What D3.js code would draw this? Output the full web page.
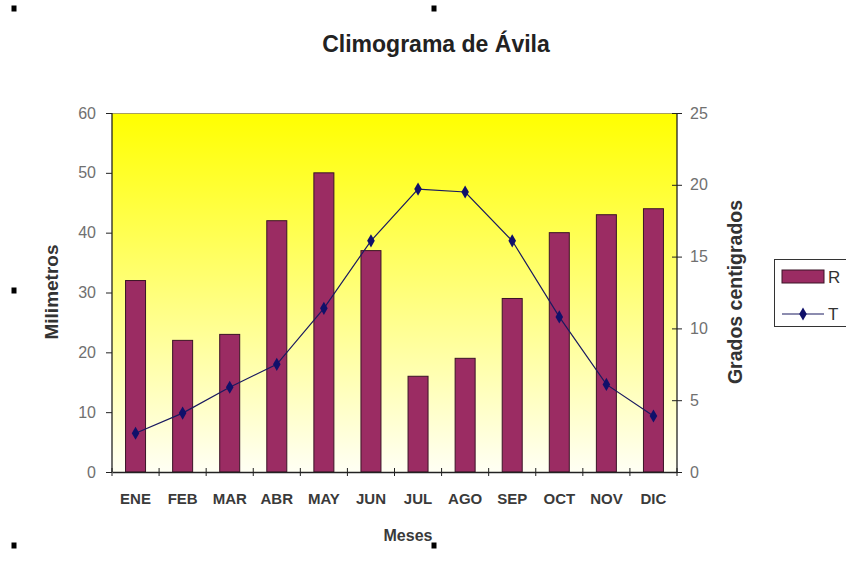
<!DOCTYPE html>
<html><head><meta charset="utf-8">
<script src="https://cdn.jsdelivr.net/npm/d3@7"></script>
<style>body{margin:0;background:#fff;overflow:hidden}svg{display:block}</style>
</head><body>
<script>
const months = ["ENE","FEB","MAR","ABR","MAY","JUN","JUL","AGO","SEP","OCT","NOV","DIC"];
const rainfall = [32,22,23,42,50,37,16,19,29,40,43,44];
const temperature = [2.7,4.1,5.9,7.5,11.4,16.1,19.7,19.5,16.1,10.8,6.1,3.9];
const leftTicks = [0,10,20,30,40,50,60];
const rightTicks = [0,5,10,15,20,25];

const W=846,H=571;
const svg=d3.select("body").append("svg").attr("width",W).attr("height",H);
const L=112,R=677,T=113,B=472;
const font="Arial, 'Liberation Sans', sans-serif";

const defs=svg.append("defs");
const g=defs.append("linearGradient").attr("id","bg").attr("x1",0).attr("y1",0).attr("x2",0).attr("y2",1);
g.append("stop").attr("offset","0%").attr("stop-color","#ffff00");
g.append("stop").attr("offset","100%").attr("stop-color","#fffff4");

const xc=d3.scaleBand().domain(months).range([L,R]);
const y=d3.scaleLinear().domain([0,60]).range([B,T]);
const y2=d3.scaleLinear().domain([0,25]).range([B,T]);

svg.append("rect").attr("x",L).attr("y",T).attr("width",R-L).attr("height",B-T).attr("fill","url(#bg)");
svg.append("line").attr("x1",L).attr("x2",R).attr("y1",T+0.5).attr("y2",T+0.5).attr("stroke","#a8a060").attr("stroke-width",1);

// bars
svg.append("g").selectAll("rect").data(rainfall).join("rect")
 .attr("x",(d,i)=>xc(months[i])+xc.bandwidth()/2-10)
 .attr("width",20)
 .attr("y",d=>y(d)).attr("height",d=>B-y(d))
 .attr("fill","#9b2c63").attr("stroke","#3b1426").attr("stroke-width",1);

// axes
const la=svg.append("g").attr("transform",`translate(${L},0)`)
 .call(d3.axisLeft(y).tickValues(leftTicks).tickSize(6).tickPadding(10));
const ra=svg.append("g").attr("transform",`translate(${R},0)`)
 .call(d3.axisRight(y2).tickValues(rightTicks).tickSize(5).tickPadding(8));
ra.selectAll(".tick line").attr("x1",-5).attr("x2",5);
const ba=svg.append("g").attr("transform",`translate(0,${B})`)
 .call(d3.axisBottom(xc).tickSize(0).tickPadding(21));
[la,ra,ba].forEach(a=>{a.select(".domain").attr("stroke","#222").attr("stroke-width",1.3);
 a.selectAll(".tick line").attr("stroke","#222");});
la.select(".domain").attr("d",`M0,${T}V${B}`);
ra.select(".domain").attr("d",`M0,${T}V${B}`);
la.selectAll("text").attr("font-family",font).attr("font-size",16).attr("fill","#707070");
ra.selectAll("text").attr("font-family",font).attr("font-size",16).attr("fill","#707070");
ba.selectAll("text").attr("font-family",font).attr("font-size",15).attr("font-weight","bold").attr("fill","#3a3a3a");
// bottom category ticks
svg.append("g").selectAll("line").data(d3.range(months.length+1)).join("line")
 .attr("x1",i=>L+i*xc.step()).attr("x2",i=>L+i*xc.step())
 .attr("y1",B-4).attr("y2",B+4).attr("stroke","#222");

// line
const line=d3.line().x((d,i)=>xc(months[i])+xc.bandwidth()/2).y(d=>y2(d));
svg.append("path").datum(temperature).attr("d",line).attr("fill","none").attr("stroke","#1a1a60").attr("stroke-width",1.2);
svg.append("g").selectAll("path").data(temperature).join("path")
 .attr("d",d3.symbol(d3.symbolDiamond,50))
 .attr("transform",(d,i)=>`translate(${xc(months[i])+xc.bandwidth()/2},${y2(d)})`)
 .attr("fill","#10106a");

// titles
svg.append("text").attr("x",436).attr("y",52).attr("text-anchor","middle").attr("font-family",font)
 .attr("font-size",23).attr("font-weight","bold").attr("fill","#222").text("Climograma de Ávila");
svg.append("text").attr("x",408).attr("y",541).attr("text-anchor","middle").attr("font-family",font)
 .attr("font-size",16).attr("font-weight","bold").attr("fill","#3a3a3a").text("Meses");
svg.append("text").attr("transform","translate(58,292) rotate(-90)").attr("text-anchor","middle").attr("font-family",font)
 .attr("font-size",19).attr("font-weight","bold").attr("fill","#333").text("Milimetros");
svg.append("text").attr("transform","translate(742,292) rotate(-90)").attr("text-anchor","middle").attr("font-family",font)
 .attr("font-size",19.5).attr("font-weight","bold").attr("fill","#333").text("Grados centigrados");

// legend
const lg=svg.append("g");
lg.append("rect").attr("x",774.5).attr("y",259.5).attr("width",80).attr("height",67).attr("fill","#fff").attr("stroke","#333");
lg.append("rect").attr("x",782).attr("y",270).attr("width",42).attr("height",13).attr("fill","#9b2c63").attr("stroke","#3b1426");
lg.append("text").attr("x",828).attr("y",283).attr("font-family",font).attr("font-size",17).attr("fill","#333").text("R");
lg.append("line").attr("x1",782).attr("x2",824).attr("y1",314).attr("y2",314).attr("stroke","#1a1a60").attr("stroke-width",1.2);
lg.append("path").attr("d",d3.symbol(d3.symbolDiamond,50)).attr("transform","translate(803,314)").attr("fill","#10106a");
lg.append("text").attr("x",828).attr("y",320).attr("font-family",font).attr("font-size",17).attr("fill","#333").text("T");

// selection handles
const handles=[[14,8],[434,8],[14,290],[14,545],[434,545]];
svg.append("g").selectAll("rect").data(handles).join("rect")
 .attr("x",d=>d[0]-2.5).attr("y",d=>d[1]-2.5).attr("width",5).attr("height",6).attr("fill","#000");
</script>
</body></html>
